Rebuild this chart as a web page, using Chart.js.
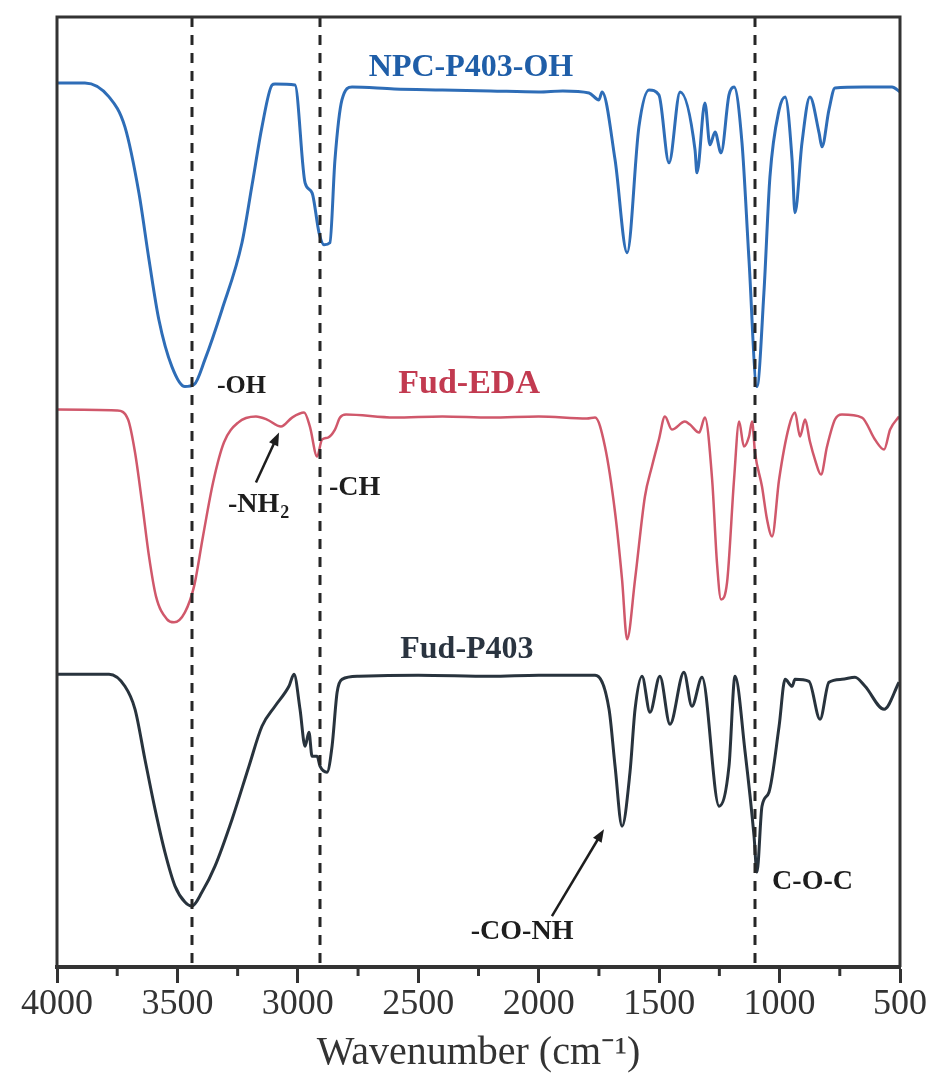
<!DOCTYPE html>
<html>
<head>
<meta charset="utf-8">
<script src="https://cdn.jsdelivr.net/npm/chart.js@4.4.1/dist/chart.umd.min.js"></script>
<style>
  html, body { margin: 0; padding: 0; background: #fff; }
  #ftir { display: block; }
</style>
</head>
<body>
<canvas id="ftir" width="931" height="1077"></canvas>
<script>
// wavenumber (cm-1) and transmittance (a.u., offset) for each spectrum
const npcWave = [4000, 3884, 3784, 3718, 3660, 3618, 3577, 3523, 3469, 3431, 3386, 3315, 3232, 3190, 3149, 3107, 3095, 3012, 2970, 2941, 2912, 2891, 2867, 2846, 2817, 2775, 2600, 2400, 2200, 2000, 1900, 1791, 1750, 1737, 1683, 1633, 1584, 1542, 1501, 1459, 1413, 1351, 1343, 1310, 1289, 1268, 1243, 1210, 1189, 1156, 1127, 1094, 1065, 1040, 1002, 977, 948, 936, 907, 874, 836, 824, 795, 770, 650, 533, 500];
const npcT = [902, 902, 888, 858, 792, 725, 665, 618, 598, 600, 625, 675, 742, 800, 858, 900, 901, 900, 802, 792, 752, 740, 742, 825, 885, 898, 896, 895, 894, 893, 894, 892, 885, 893, 825, 732, 858, 895, 890, 822, 893, 835, 812, 882, 840, 853, 832, 890, 898, 842, 725, 598, 692, 808, 875, 888, 825, 772, 842, 888, 852, 838, 875, 897, 898, 898, 893];

const edaWave = [4000, 3751, 3705, 3676, 3647, 3618, 3589, 3543, 3514, 3469, 3431, 3394, 3352, 3307, 3248, 3174, 3128, 3070, 3024, 2974, 2950, 2920, 2900, 2875, 2846, 2825, 2800, 2600, 2400, 2200, 2000, 1800, 1766, 1725, 1683, 1654, 1633, 1600, 1559, 1530, 1501, 1476, 1447, 1393, 1372, 1334, 1310, 1280, 1260, 1243, 1218, 1189, 1168, 1148, 1127, 1114, 1102, 1073, 1052, 1031, 1002, 961, 936, 915, 894, 874, 853, 828, 803, 770, 741, 658, 604, 566, 541, 504];
const edaT = [575, 574, 565, 532, 482, 428, 388, 365, 362, 372, 398, 448, 502, 542, 562, 568, 565, 558, 567, 572, 558, 528, 545, 547, 555, 567, 570, 567, 568, 567, 568, 566, 567, 538, 472, 405, 345, 405, 488, 518, 545, 568, 555, 563, 560, 552, 567, 505, 422, 385, 402, 505, 563, 538, 548, 563, 532, 498, 465, 448, 505, 558, 572, 548, 565, 543, 525, 510, 538, 565, 570, 567, 545, 535, 555, 568];

const p403Wave = [4000, 3784, 3718, 3676, 3635, 3593, 3552, 3510, 3469, 3440, 3398, 3344, 3273, 3203, 3149, 3095, 3037, 3016, 2991, 2970, 2954, 2941, 2920, 2908, 2879, 2858, 2837, 2817, 2746, 2500, 2200, 2000, 1766, 1708, 1683, 1654, 1621, 1600, 1571, 1538, 1497, 1455, 1397, 1364, 1322, 1251, 1210, 1185, 1143, 1106, 1094, 1073, 1044, 1002, 977, 948, 936, 878, 832, 795, 741, 687, 645, 566, 504];
const p403T = [310, 310, 298, 275, 225, 175, 132, 98, 82, 78, 92, 118, 165, 218, 258, 278, 298, 310, 275, 238, 252, 228, 228, 218, 212, 238, 292, 305, 308, 309, 308, 309, 309, 275, 218, 158, 212, 275, 308, 272, 308, 260, 312, 278, 307, 178, 218, 308, 232, 148, 112, 178, 192, 258, 305, 298, 305, 303, 265, 302, 305, 307, 298, 275, 302];

const xTicks = [4000, 3500, 3000, 2500, 2000, 1500, 1000, 500];
const minorTicks = [3750, 3250, 2750, 2250, 1750, 1250, 750];
const markedBands = [3440, 2910, 1100]; // dashed guide lines

const pts = (xs, ys) => xs.map((x, i) => ({ x: x, y: ys[i] }));

const serif = "'Liberation Serif', 'Times New Roman', serif";

// annotations: text, wavenumber, y, colour, size, align
const labels = [
  { text: "NPC-P403-OH", x: 2281, y: 917, color: "#1f5ea8", size: 32, align: "center" },
  { text: "Fud-EDA", x: 2289, y: 600, color: "#c23a50", size: 34, align: "center" },
  { text: "Fud-P403", x: 2298, y: 335, color: "#2a3440", size: 32, align: "center" },
  { text: "-OH", x: 3336, y: 598, color: "#1d1d1d", size: 26, align: "left" },
  { text: "-CH", x: 2871, y: 497, color: "#1d1d1d", size: 28, align: "left" },
  { text: "-CO-NH", x: 2069, y: 52, color: "#1d1d1d", size: 28, align: "center" },
  { text: "C-O-C", x: 1031, y: 102, color: "#1d1d1d", size: 28, align: "left" },
];
const arrows = [
  { x0: 3174, y0: 502, x1: 3078, y1: 552 },
  { x0: 1945, y0: 68, x1: 1729, y1: 155 },
];

const annotate = {
  id: "annotate",
  afterDatasetsDraw: (chart) => {
    const ctx = chart.ctx;
    const xs = chart.scales.x;
    const ys = chart.scales.y;
    const area = chart.chartArea;
    ctx.save();

    // dashed guide lines
    ctx.strokeStyle = "#262626";
    ctx.lineWidth = 3;
    ctx.setLineDash([10, 8]);
    markedBands.forEach((w) => {
      const px = Math.round(xs.getPixelForValue(w));
      ctx.beginPath();
      ctx.moveTo(px, area.top);
      ctx.lineTo(px, area.bottom);
      ctx.stroke();
    });
    ctx.setLineDash([]);

    // frame (top, left, right)
    ctx.strokeStyle = "#333";
    ctx.lineWidth = 3;
    ctx.beginPath();
    ctx.moveTo(area.left, area.bottom);
    ctx.lineTo(area.left, area.top);
    ctx.lineTo(area.right, area.top);
    ctx.lineTo(area.right, area.bottom);
    ctx.stroke();

    // minor ticks
    ctx.lineWidth = 3;
    minorTicks.forEach((w) => {
      const px = xs.getPixelForValue(w);
      ctx.beginPath();
      ctx.moveTo(px, area.bottom);
      ctx.lineTo(px, area.bottom + 9);
      ctx.stroke();
    });

    // text labels
    ctx.textBaseline = "middle";
    labels.forEach((l) => {
      ctx.font = "bold " + l.size + "px " + serif;
      ctx.fillStyle = l.color;
      ctx.textAlign = l.align;
      ctx.fillText(l.text, xs.getPixelForValue(l.x), ys.getPixelForValue(l.y));
    });

    // -NH2 with subscript
    const nx = xs.getPixelForValue(3290);
    const ny = ys.getPixelForValue(480);
    ctx.textAlign = "left";
    ctx.fillStyle = "#1d1d1d";
    ctx.font = "bold 28px " + serif;
    ctx.fillText("-NH", nx, ny);
    const nw = ctx.measureText("-NH").width;
    ctx.font = "bold 18px " + serif;
    ctx.fillText("2", nx + nw + 1, ny + 9);

    // arrows
    ctx.strokeStyle = "#1d1d1d";
    ctx.fillStyle = "#1d1d1d";
    ctx.lineWidth = 2.5;
    arrows.forEach((a) => {
      const x0 = xs.getPixelForValue(a.x0), y0 = ys.getPixelForValue(a.y0);
      const x1 = xs.getPixelForValue(a.x1), y1 = ys.getPixelForValue(a.y1);
      const ang = Math.atan2(y1 - y0, x1 - x0);
      ctx.beginPath();
      ctx.moveTo(x0, y0);
      ctx.lineTo(x1 - 8 * Math.cos(ang), y1 - 8 * Math.sin(ang));
      ctx.stroke();
      ctx.beginPath();
      ctx.moveTo(x1, y1);
      ctx.lineTo(x1 - 13 * Math.cos(ang) + 5 * Math.sin(ang), y1 - 13 * Math.sin(ang) - 5 * Math.cos(ang));
      ctx.lineTo(x1 - 13 * Math.cos(ang) - 5 * Math.sin(ang), y1 - 13 * Math.sin(ang) + 5 * Math.cos(ang));
      ctx.closePath();
      ctx.fill();
    });
    ctx.restore();
  },
};

const lineDefaults = {
  borderWidth: 3,
  pointRadius: 0,
  fill: false,
  cubicInterpolationMode: "monotone",
};

new Chart(document.getElementById("ftir"), {
  type: "line",
  data: {
    datasets: [
      { ...lineDefaults, label: "NPC-P403-OH", data: pts(npcWave, npcT), borderColor: "#2e6db7" },
      { ...lineDefaults, label: "Fud-EDA", data: pts(edaWave, edaT), borderColor: "#d0586b", borderWidth: 2.5 },
      { ...lineDefaults, label: "Fud-P403", data: pts(p403Wave, p403T), borderColor: "#28333d" },
    ],
  },
  options: {
    responsive: false,
    animation: false,
    devicePixelRatio: 1,
    layout: { padding: { left: 57, right: 31, top: 17, bottom: 2 } },
    plugins: { legend: { display: false }, tooltip: { enabled: false } },
    scales: {
      x: {
        type: "linear",
        reverse: true,
        min: 500,
        max: 4000,
        afterBuildTicks: (scale) => {
          scale.ticks = xTicks.map((v) => ({ value: v }));
        },
        ticks: {
          color: "#333",
          padding: 4,
          maxRotation: 0,
          autoSkip: false,
          callback: (v) => String(v),
          font: { family: serif, size: 36, lineHeight: 1 },
        },
        grid: {
          drawOnChartArea: false,
          drawTicks: true,
          tickLength: 16,
          tickWidth: 3,
          tickColor: "#333",
        },
        border: { display: true, width: 4, color: "#333" },
        title: {
          display: true,
          text: "Wavenumber (cm⁻¹)",
          color: "#333",
          padding: { top: 4, bottom: 0 },
          font: { family: serif, size: 40, lineHeight: 1.1 },
        },
      },
      y: { display: false, min: 17, max: 968 },
    },
  },
  plugins: [annotate],
});
</script>
</body>
</html>
